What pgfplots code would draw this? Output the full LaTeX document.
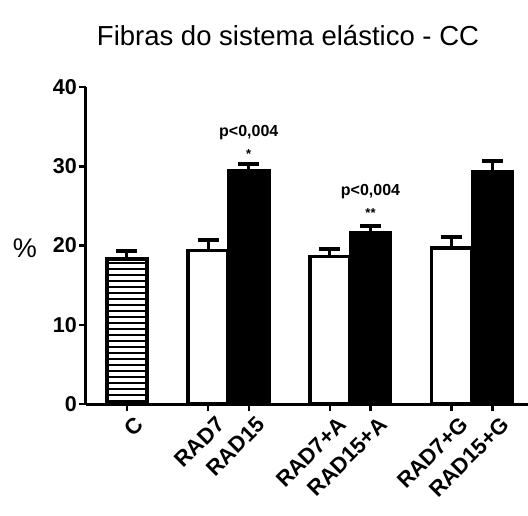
\documentclass[border=0pt]{standalone}
\usepackage{fontspec}
\setmainfont{Liberation Sans}
\usepackage{pgfplots}
\pgfplotsset{compat=1.18}
\usetikzlibrary{patterns.meta}
\begin{document}
\begin{tikzpicture}
\useasboundingbox (0,0) rectangle (528pt,515pt);
\node[font=\fontsize{27.5}{30}\selectfont] at (288pt,479pt) {Fibras do sistema elástico - CC};
\node[font=\fontsize{27}{29}\selectfont] at (25pt,267pt) {\%};
\begin{axis}[
  at={(86pt,111pt)}, anchor=south west,
  scale only axis, width=442pt, height=317pt,
  xmin=-1.01, xmax=9.88, ymin=0, ymax=40,
  axis x line=bottom, axis y line=left,
  axis line style={-, line width=3pt},
  ytick={0,10,20,30,40},
  xtick={0,2,3,5,6,8,9},
  xticklabels={C, RAD7, RAD15, RAD7+A, RAD15+A, RAD7+G, RAD15+G},
  x tick label style={rotate=45, anchor=north east, font=\fontsize{22}{24}\selectfont\bfseries, inner sep=2pt, xshift=4pt, yshift=-6pt},
  y tick label style={font=\fontsize{21.5}{23}\selectfont\bfseries, inner sep=2pt},
  /pgf/number format/assume math mode=true,
  tick align=outside, major tick length=7pt,
  every tick/.style={line width=2.5pt, black},
  clip=false,
  ybar, bar width=40pt, bar shift=0pt,
  error bars/y dir=plus, error bars/y explicit,
  error bars/error bar style={line width=3pt, black},
  error bars/error mark options={rotate=90, line width=4pt, mark size=10.5pt, black},
]
\addplot[draw=black, line width=3.5pt, pattern={Lines[angle=0,distance=6pt,line width=1.2pt]}]
  coordinates {(0,18.3) +- (0,1.0)};
\addplot[draw=black, line width=3.5pt, fill=white]
  coordinates {(2,19.4) +- (0,1.3) (5,18.6) +- (0,1.0) (8,19.7) +- (0,1.4)};
\addplot[draw=black, line width=3.5pt, fill=black]
  coordinates {(3,29.4) +- (0,0.9) (6,21.6) +- (0,0.9) (9,29.3) +- (0,1.3)};
\node[font=\fontsize{16}{18}\selectfont\bfseries] at (axis cs:3,34.2) {p<0,004};
\node[font=\fontsize{13}{15}\selectfont\bfseries] at (axis cs:3,31.5) {*};
\node[font=\fontsize{16}{18}\selectfont\bfseries] at (axis cs:6,26.75) {p<0,004};
\node[font=\fontsize{13}{15}\selectfont\bfseries] at (axis cs:6,24.1) {**};
\end{axis}
\end{tikzpicture}
\end{document}
